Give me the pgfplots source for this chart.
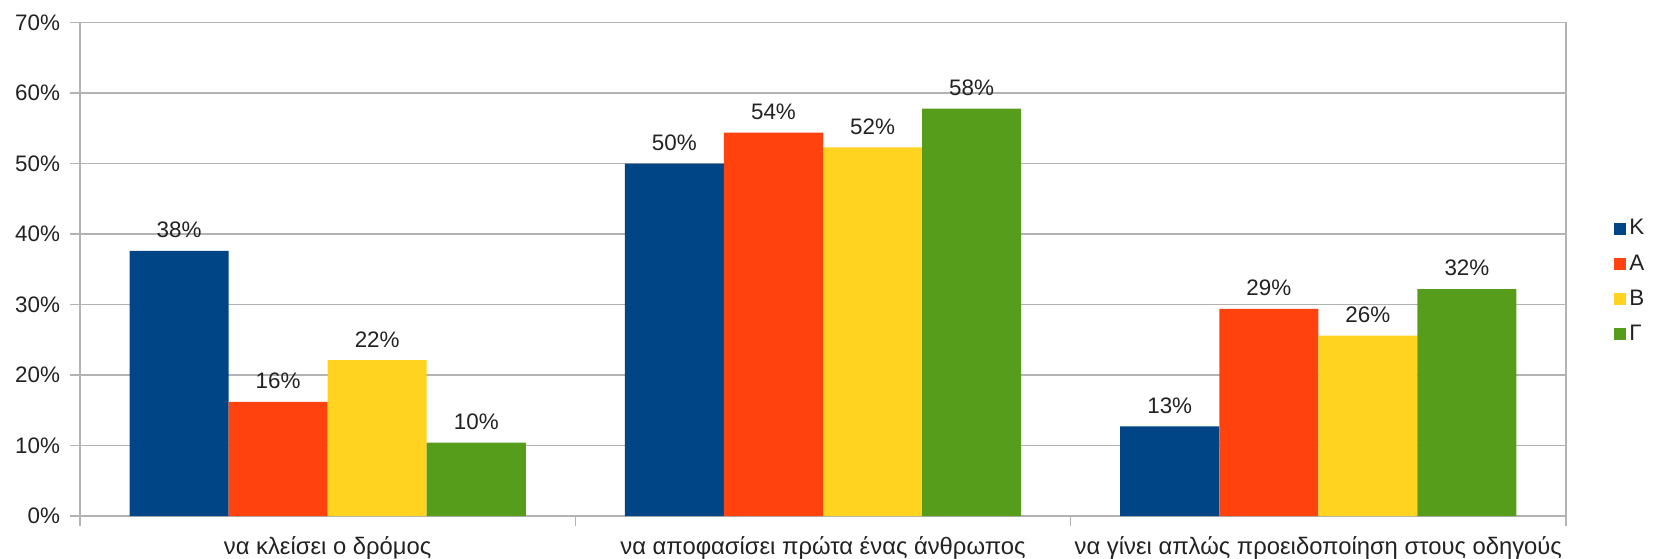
\documentclass[border=0pt]{standalone}
\usepackage{fontspec}
\setmainfont{Liberation Sans}
\usepackage{pgfplots}
\pgfplotsset{compat=1.18}
\definecolor{cK}{HTML}{004586}
\definecolor{cA}{HTML}{FF420E}
\definecolor{cB}{HTML}{FFD320}
\definecolor{cG}{HTML}{579D1C}
\definecolor{gridc}{HTML}{B3B3B3}
\definecolor{txt}{HTML}{222222}
\begin{document}
\begin{tikzpicture}[font=\fontsize{11.2}{13}\selectfont, text=txt]
\path[use as bounding box] (-40pt,-21pt) rectangle (787.5pt,258pt);
\begin{axis}[
  scale only axis, width=743pt, height=246.7pt,
  ybar=0pt, bar width=0.2,
  xmin=-0.5, xmax=2.5, ymin=0, ymax=70,
  /pgf/number format/assume math mode=true,
  xtick={-0.5,0.5,1.5,2.5}, xticklabels={,,,},
  extra x ticks={0,1,2},
  extra x tick labels={να κλείσει ο δρόμος, να αποφασίσει πρώτα ένας άνθρωπος, να γίνει απλώς προειδοποίηση στους οδηγούς},
  extra x tick style={major tick length=0pt, grid=none,
    tick label style={yshift=-6.5pt, font=\fontsize{11.9}{13}\selectfont}},
  ytick={0,10,...,70},
  yticklabel={\pgfmathprintnumber{\tick}\%},
  yticklabel style={xshift=-1.5pt},
  xtick pos=left, ytick pos=left,
  tick align=outside, major tick length=5pt,
  tick style={gridc, line width=0.6pt},
  axis line style={gridc, line width=0.6pt},
  ymajorgrids, grid style={gridc, line width=0.6pt},
  nodes near coords={\pgfmathprintnumber[fixed,precision=0]{\pgfplotspointmeta}\%},
  every node near coord/.append style={font=\fontsize{11.2}{13}\selectfont, yshift=3pt, txt},
  legend style={draw=none, at={(axis description cs:1,0.475)}, anchor=west, xshift=24pt,
    font=\fontsize{11.2}{13}\selectfont, row sep=4.6pt, inner sep=0pt,
    nodes={inner sep=1.5pt, text height=8pt, text depth=2pt}},
  legend cell align=left,
  legend image code/.code={\fill[#1] (0pt,-3pt) rectangle (6pt,3pt);},
]
\addplot[fill=cK, draw=none] coordinates {(0,37.6) (1,50.0) (2,12.7)};
\addplot[fill=cA, draw=none] coordinates {(0,16.2) (1,54.4) (2,29.4)};
\addplot[fill=cB, draw=none] coordinates {(0,22.1) (1,52.3) (2,25.6)};
\addplot[fill=cG, draw=none] coordinates {(0,10.4) (1,57.8) (2,32.2)};
\legend{Κ,Α,Β,Γ}
\end{axis}
\end{tikzpicture}
\end{document}
